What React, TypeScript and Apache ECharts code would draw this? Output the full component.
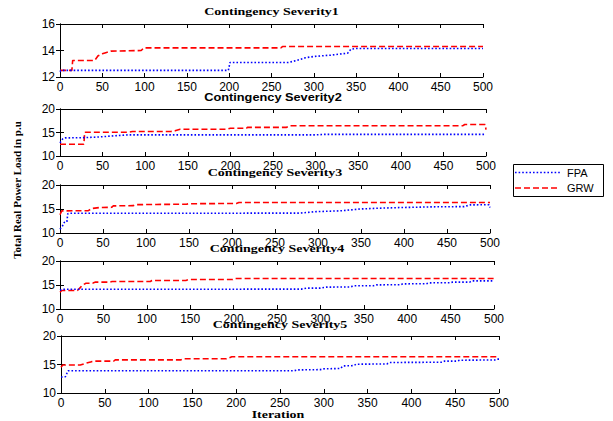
import React, { useEffect, useRef } from "react";
import * as echarts from "echarts";

// ---------- data ----------
const titles = [
  "Contingency Severity1",
  "Contingency Severity2",
  "Contingency Severity3",
  "Contingency Severity4",
  "Contingency Severity5",
];
const xTicks = { min: 0, max: 500, interval: 50 };
const yRanges = [
  [12, 16, 2],
  [10, 20, 5],
  [10, 20, 5],
  [10, 20, 5],
  [10, 20, 5],
];

const s1FpaX = [0, 1, 199, 201, 270, 280, 290, 300, 320, 340, 344, 350, 500];
const s1FpaY = [12.4, 12.5, 12.5, 13.1, 13.1, 13.25, 13.45, 13.55, 13.65, 13.8, 14.1, 14.15, 14.15];
const s1GrwX = [0, 14, 15, 41, 45, 50, 55, 60, 96, 99, 261, 263, 500];
const s1GrwY = [12.5, 12.5, 13.25, 13.25, 13.6, 13.75, 13.85, 13.95, 14.0, 14.2, 14.2, 14.3, 14.3];

const s2FpaX = [0, 3, 6, 27, 40, 50, 60, 80, 300, 310, 500];
const s2FpaY = [12.8, 13.6, 13.85, 13.9, 14.0, 14.1, 14.25, 14.5, 14.5, 14.6, 14.6];
const s2GrwX = [0, 28, 29, 80, 85, 130, 135, 141, 196, 200, 219, 220, 266, 270, 473, 475, 499, 500];
const s2GrwY = [12.5, 12.5, 15.05, 15.05, 15.2, 15.2, 15.35, 15.7, 15.7, 15.9, 15.9, 16.1, 16.1, 16.45, 16.45, 16.7, 16.7, 15.6];

const s3FpaX = [0, 3, 5, 8, 9, 12, 279, 298, 326, 349, 368, 395, 434, 470, 477, 499, 500];
const s3FpaY = [10.8, 11.5, 12.2, 12.3, 14.0, 14.1, 14.14, 14.45, 14.62, 15.0, 15.15, 15.3, 15.45, 15.5, 15.85, 15.9, 15.3];
const s3GrwX = [0, 2, 33, 37, 46, 60, 62, 85, 88, 112, 147, 150, 205, 208, 500];
const s3GrwY = [13.8, 14.6, 14.65, 15.1, 15.3, 15.35, 15.65, 15.7, 15.9, 15.95, 16.0, 16.1, 16.15, 16.35, 16.35];

const s4FpaX = [0, 2, 278, 284, 300, 307, 334, 340, 361, 365, 392, 395, 422, 425, 449, 452, 472, 475, 500];
const s4FpaY = [13.9, 14.1, 14.14, 14.34, 14.35, 14.55, 14.6, 14.83, 14.85, 15.03, 15.05, 15.24, 15.26, 15.45, 15.47, 15.59, 15.6, 15.86, 15.86];
const s4GrwX = [0, 2, 20, 22, 26, 30, 38, 41, 57, 60, 104, 106, 145, 148, 199, 201, 500];
const s4GrwY = [13.5, 13.85, 13.85, 14.2, 15.0, 15.35, 15.4, 15.6, 15.6, 15.72, 15.72, 15.93, 15.95, 16.14, 16.14, 16.35, 16.35];

const s5FpaX = [0, 5, 8, 266, 270, 296, 300, 319, 322, 334, 337, 372, 375, 435, 438, 452, 455, 495, 498, 500];
const s5FpaY = [12.8, 12.85, 13.9, 13.9, 14.05, 14.1, 14.24, 14.3, 14.75, 14.8, 15.05, 15.1, 15.35, 15.4, 15.6, 15.6, 15.75, 15.8, 15.95, 15.95];
const s5GrwX = [0, 2, 22, 28, 35, 39, 60, 62, 137, 139, 189, 195, 500];
const s5GrwY = [14.5, 14.9, 14.9, 15.2, 15.5, 15.6, 15.6, 15.82, 15.82, 16.0, 16.0, 16.35, 16.35];

const fpaData = [
  [s1FpaX, s1FpaY],
  [s2FpaX, s2FpaY],
  [s3FpaX, s3FpaY],
  [s4FpaX, s4FpaY],
  [s5FpaX, s5FpaY],
];
const grwData = [
  [s1GrwX, s1GrwY],
  [s2GrwX, s2GrwY],
  [s3GrwX, s3GrwY],
  [s4GrwX, s4GrwY],
  [s5GrwX, s5GrwY],
];
const legendNames = ["FPA", "GRW"];
const yAxisTitle = "Total Real Power Load in p.u";
const xAxisTitle = "Iteration";

// ---------- layout ----------
const grids = [
  { left: 60, top: 24, width: 423, height: 53 },
  { left: 60, top: 109, width: 426, height: 47 },
  { left: 60, top: 185, width: 430, height: 48 },
  { left: 60, top: 261, width: 434, height: 48 },
  { left: 61, top: 336, width: 438, height: 57 },
];
const titleY = [12, 97, 173, 249, 325];
const titleFonts = [
  'bold 11px "Liberation Serif"',
  'bold 11px "Liberation Sans"',
  'bold 11px "Liberation Serif"',
  'bold 11px "Liberation Serif"',
  'bold 11px "Liberation Serif"',
];
const titleScale = [1.27, 1.16, 1.27, 1.27, 1.27];

const zip = (xs: number[], ys: number[]) => xs.map((x, i) => [x, ys[i]]);

function buildOption() {
  const black = "#000";
  const axisLine = { show: true, lineStyle: { color: black, width: 1 } };
  const tick = { show: true, inside: true, length: 4, lineStyle: { color: black } };
  const label = { color: black, fontFamily: "Liberation Sans", fontSize: 12 };

  const xAxis: any[] = [];
  const yAxis: any[] = [];
  const series: any[] = [];
  grids.forEach((g, i) => {
    const [ymin, ymax, yint] = yRanges[i];
    xAxis.push({
      type: "value", gridIndex: i, position: "bottom", ...xTicks,
      axisLine, axisTick: tick, splitLine: { show: false },
      axisLabel: { ...label, margin: 4 },
    });
    xAxis.push({
      type: "value", gridIndex: i, position: "top", ...xTicks,
      axisLine, axisTick: tick, splitLine: { show: false },
      axisLabel: { show: false },
    });
    yAxis.push({
      type: "value", gridIndex: i, position: "left", min: ymin, max: ymax, interval: yint,
      axisLine, axisTick: tick, splitLine: { show: false },
      axisLabel: { ...label, margin: 5 },
    });
    yAxis.push({
      type: "value", gridIndex: i, position: "right", min: ymin, max: ymax, interval: yint,
      axisLine, axisTick: tick, splitLine: { show: false },
      axisLabel: { show: false },
    });
    series.push({
      name: legendNames[0], type: "line", xAxisIndex: i * 2, yAxisIndex: i * 2,
      data: zip(fpaData[i][0], fpaData[i][1]), showSymbol: false, symbol: "none",
      lineStyle: { color: "#0000ff", width: 1.6, type: [1.6, 2] }, z: 3,
    });
    series.push({
      name: legendNames[1], type: "line", xAxisIndex: i * 2, yAxisIndex: i * 2,
      data: zip(grwData[i][0], grwData[i][1]), showSymbol: false, symbol: "none",
      lineStyle: { color: "#ff0000", width: 1.6, type: [6, 3] }, z: 2,
    });
  });

  const graphic: any[] = titles.map((t, i) => ({
    type: "text",
    x: grids[i].left + grids[i].width / 2,
    y: titleY[i],
    scaleX: titleScale[i],
    z: 10,
    style: {
      text: t, font: titleFonts[i], fill: black,
      textAlign: "center", textVerticalAlign: "middle", verticalAlign: "middle",
    },
  }));
  graphic.push({
    type: "text", x: 17, y: 190, rotation: Math.PI / 2,
    style: {
      text: yAxisTitle, font: 'bold 11px "Liberation Serif"', fill: black,
      textAlign: "center", textVerticalAlign: "middle", verticalAlign: "middle",
    },
  });
  graphic.push({
    type: "text", x: 278, y: 415, scaleX: 1.27,
    style: {
      text: xAxisTitle, font: 'bold 11px "Liberation Serif"', fill: black,
      textAlign: "center", textVerticalAlign: "middle", verticalAlign: "middle",
    },
  });
  // legend
  graphic.push({
    type: "rect", shape: { x: 513.5, y: 164.5, width: 90, height: 32 },
    style: { fill: "#fff", stroke: black, lineWidth: 1 },
  });
  graphic.push({
    type: "line", shape: { x1: 515, y1: 172.5, x2: 560, y2: 172.5 },
    style: { stroke: "#0000ff", lineWidth: 1.6, lineDash: [1.6, 2] },
  });
  graphic.push({
    type: "line", shape: { x1: 515, y1: 188, x2: 560, y2: 188 },
    style: { stroke: "#ff0000", lineWidth: 1.6, lineDash: [6, 3] },
  });
  legendNames.forEach((n, i) => {
    graphic.push({
      type: "text", x: 567, y: i === 0 ? 172.5 : 188,
      style: {
        text: n, font: '11px "Liberation Sans"', fill: black,
        textAlign: "left", textVerticalAlign: "middle", verticalAlign: "middle",
      },
    });
  });

  return {
    animation: false,
    backgroundColor: "#fff",
    grid: grids.map((g) => ({ ...g, containLabel: false })),
    xAxis,
    yAxis,
    series,
    graphic,
  };
}

export default function App() {
  const ref = useRef<HTMLDivElement>(null);
  useEffect(() => {
    if (!ref.current) return;
    const chart = echarts.init(ref.current, undefined, { renderer: "svg" });
    chart.setOption(buildOption() as any);
    return () => chart.dispose();
  }, []);
  return (
    <div
      ref={ref}
      style={{ position: "fixed", left: 0, top: 0, width: 613, height: 421, background: "#fff" }}
    />
  );
}
